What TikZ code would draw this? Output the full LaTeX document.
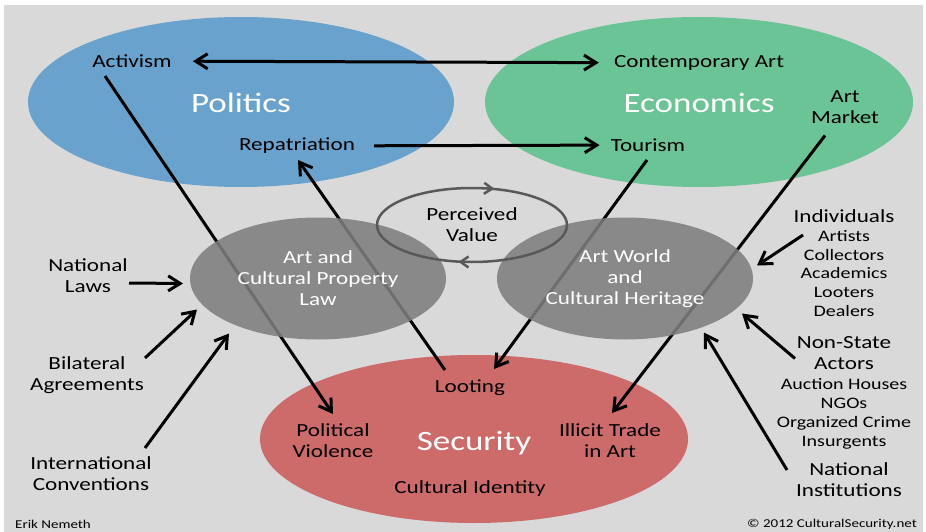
\documentclass[tikz,border=0pt]{standalone}
\usepackage{fontspec}
\setmainfont{Carlito}[FakeStretch=1.25]
\usetikzlibrary{arrows.meta,shapes.geometric,decorations.markings,calc}

\definecolor{bggray}{RGB}{217,217,217}
\definecolor{polblue}{RGB}{105,163,205}
\definecolor{ecogreen}{RGB}{107,196,150}
\definecolor{secred}{RGB}{205,106,106}
\definecolor{hubgray}{RGB}{126,126,126}
\definecolor{loopgray}{RGB}{89,89,89}

\newcommand\titlefont{\fontsize{28}{32}\selectfont}
\newcommand\labelfont{\fontsize{18.5}{21}\selectfont}
\newcommand\listfont{\fontsize{16}{18.8}\selectfont}
\newcommand\creditfont{\fontsize{12}{14}\selectfont}

\tikzset{
  field/.style={ellipse, inner sep=0pt, outer sep=0pt, text=white, font=\titlefont,
    text height=25pt, text depth=3pt},
  hub/.style={ellipse, fill=hubgray, fill opacity=.88, text opacity=1, text=white,
    font=\labelfont, align=center, inner sep=0pt, outer sep=0pt,
    minimum width=256pt, minimum height=122pt},
  txt/.style={font=\labelfont, align=center, inner sep=1pt},
  lst/.style={font=\listfont, align=center, inner sep=1pt},
  link/.style={line width=3pt, ->},
}

\begin{document}
\begin{tikzpicture}[x=1pt,y=-1pt,>={Straight Barb[length=12pt,width=15pt]}]
\fill[white] (0,0) rectangle (926,532);
\fill[bggray] (4,5) rectangle (923,532);

% the three fields
\node[field, fill=polblue, minimum width=426pt, minimum height=170pt] (politics) at (241,102) {Politics};
\node[field, fill=ecogreen, minimum width=428pt, minimum height=170pt] (economics) at (699,102) {Economics};
\node[field, fill=secred, minimum width=428pt, minimum height=168pt] (security) at (474,439) {Security};

\node[txt] (activism) at (132,61) {Activism};
\node[txt] (contemp) at (699,63) {Contemporary Art};
\node[txt] (repatr) at (297,146) {Repatriation};
\node[txt] (tourism) at (648,145) {Tourism};
\node[txt] (market) at (845,107.5) {Art\\Market};
\node[txt] (looting) at (470,388) {Looting};
\node[txt] (polviol) at (333,441) {Political\\Violence};
\node[txt] (illicit) at (610,441) {Illicit Trade\\in Art};
\node[txt] (identity) at (470,489) {Cultural Identity};

\node[txt] (natlaws) at (88,276) {National\\Laws};
\node[txt] (bilateral) at (87,375) {Bilateral\\Agreements};
\node[txt] (intl) at (91,474) {International\\Conventions};
\node[txt] (individuals) at (844,216) {Individuals};
\node[lst] (people) at (844,273.5) {Artists\\Collectors\\Academics\\Looters\\Dealers};
\node[txt] (nonstate) at (844,353.5) {Non-State\\Actors};
\node[lst] (groups) at (844,414) {Auction Houses\\NGOs\\Organized Crime\\Insurgents};
\node[txt] (institutions) at (849,480) {National\\Institutions};

\node[font=\creditfont, anchor=west, inner sep=0pt] (author) at (15,524) {Erik Nemeth};
\node[font=\creditfont, inner sep=0pt] (copyright) at (832,524) {\textcopyright{} 2012 CulturalSecurity.net};

% links between the fields (under the grey hubs)
\draw[link, <->, shorten <=20pt, shorten >=14pt] (activism) -- (contemp);
\draw[link, shorten <=18pt, shorten >=10pt] (repatr) -- (tourism);
\draw[link] ($(activism)+(-27,15)$) -- ($(polviol)+(0,-27)$);
\draw[link] ($(looting)+(-25,-18)$) -- ($(repatr)+(1,14)$);
\draw[link] ($(tourism)+(-1,15)$) -- ($(looting)+(24,-19)$);
\draw[link] ($(market)+(-20,28)$) -- ($(illicit)+(2,-28)$);

% grey hubs and the value loop
\node[hub] (artlaw) at (318,278.5) {Art and\\Cultural Property\\Law};
\node[hub] (artworld) at (625,278.5) {Art World\\and\\Cultural Heritage};
\node[ellipse, draw=loopgray, line width=2.5pt, font=\labelfont, align=center,
  minimum width=190pt, minimum height=74pt, inner sep=0pt,
  postaction={decorate, decoration={markings,
    mark=at position 0.225 with {\arrow{Straight Barb[reversed,length=8pt,width=11pt]}},
    mark=at position 0.745 with {\arrow{Straight Barb[reversed,length=8pt,width=11pt]}}}}]
  (value) at (472,225) {Perceived\\Value};

% outside actors pointing at the hubs
\draw[link] ($(natlaws)+(41,7)$) -- ($(artlaw)+(-135,5)$);
\draw[link] ($(bilateral)+(58,-17)$) -- ($(artlaw)+(-121,31)$);
\draw[link] ($(intl)+(54,-26)$) -- ($(artlaw)+(-89,55)$);
\draw[link] ($(individuals)+(-41,19)$) -- ($(artworld)+(132,-13)$);
\draw[link] ($(nonstate)+(-49,5)$) -- ($(artworld)+(117,35)$);
\draw[link] ($(institutions)+(-62,-10)$) -- ($(artworld)+(79,54)$);
\end{tikzpicture}
\end{document}
